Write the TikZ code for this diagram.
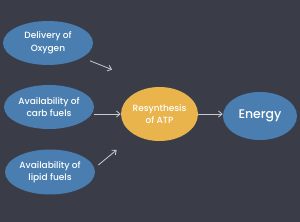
\documentclass[tikz,border=0pt]{standalone}
\usepackage{fontspec}
\setmainfont{Poppins}[UprightFont={* Medium}]
\usetikzlibrary{positioning,arrows.meta,shapes.geometric,calc}
\definecolor{bg}{HTML}{3A3D48}
\definecolor{blu}{HTML}{4A7EB0}
\definecolor{yel}{HTML}{E9B44C}
\definecolor{arr}{HTML}{C9CBCF}
\begin{document}
\begin{tikzpicture}[x=1pt, y=1pt,
  font=\fontsize{9}{12.5}\selectfont,
  blob/.style={ellipse, fill=blu, text=white, align=center, inner sep=0pt, minimum width=90pt, minimum height=44pt},
  hub/.style={blob, fill=yel, minimum width=77pt, minimum height=54pt},
  >={Straight Barb[length=3.5pt, width=6pt]}, every path/.style={line width=0.8pt}]
\fill[bg] (0,0) rectangle (300,222);
\node[blob] (oxy) at (48,179) {Delivery of\\Oxygen};
\node[blob] (carb) at (49,115) {Availability of\\carb fuels};
\node[blob, minimum height=45pt] (lipid) at (50,50) {Availability of\\lipid fuels};
\node[hub] (atp) at (159.5,108) {Resynthesis\\of ATP};
\node[blob, minimum width=74pt, minimum height=48pt, font=\fontsize{12.5}{15}\selectfont] (en) at (260,106) {Energy};
\draw[->, arr] ([shift={(10,-2)}]oxy.south east) -- ([shift={(-20,25)}]atp.north west);
\draw[->, arr] (atp.west -| carb.east) -- (atp.west);
\draw[->, arr] ([shift={(3,7)}]lipid.east) -- ([shift={(-4,-36)}]atp.west);
\draw[->, arr] (atp.east) -- (atp.east -| en.west);
\end{tikzpicture}
\end{document}
